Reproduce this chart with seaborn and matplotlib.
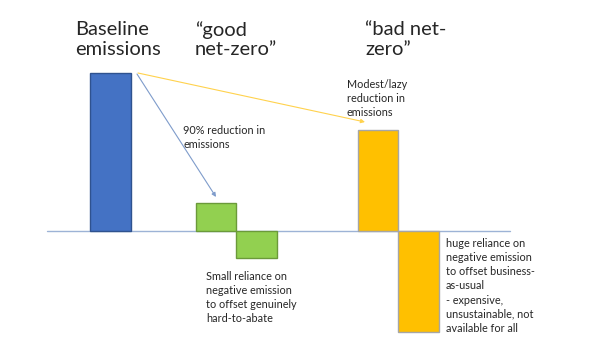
import matplotlib
matplotlib.use("Agg")
import matplotlib.pyplot as plt
import seaborn as sns
import pandas as pd

# ---- data ----
bar_labels = ["Baseline", "good +", "good -", "bad +", "bad -"]
bar_positions = [0.0, 2.6, 3.6, 6.6, 7.6]
bar_values = [100, 18, -17, 64, -64]
bar_groups = ["baseline", "good", "good", "bad", "bad"]
group_colors = {"baseline": "#4472C4", "good": "#92D050", "bad": "#FFC000"}
edge_colors = {"baseline": "#2F528F", "good": "#6B9A3A", "bad": "#A6A6A6"}

titles = ["Baseline\nemissions", "\u201cgood\nnet-zero\u201d", "\u201cbad net-\nzero\u201d"]
notes = [
    "90% reduction in\nemissions",
    "Modest/lazy\nreduction in\nemissions",
    "Small reliance on\nnegative emission\nto offset genuinely\nhard-to-abate",
    "huge reliance on\nnegative emission\nto offset business-\nas-usual\n- expensive,\nunsustainable, not\navailable for all",
]

df = pd.DataFrame({"label": bar_labels, "pos": bar_positions,
                   "value": bar_values, "group": bar_groups})

sns.set_theme(style="white")
plt.rcParams["font.family"] = ["Lato", "DejaVu Sans"]

W, H = 602, 338
fig = plt.figure(figsize=(W / 100, H / 100), dpi=100)
ax = fig.add_axes([0, 0, 1, 1])

sns.barplot(data=df, x="pos", y="value", hue="group", palette=group_colors,
            native_scale=True, width=1.0, dodge=False, legend=False, ax=ax,
            saturation=1, linewidth=1.0)
for patch, g in zip(ax.patches, bar_groups):
    patch.set_edgecolor(edge_colors[g])

# pixel mapping: bar unit = 40.5 px, baseline bar centre at 110.5 px, zero at y=231
ux, uy = 40.5, 1.58
x0px, y0px = 110.5, 231
ax.set_xlim(-x0px / ux, (W - x0px) / ux)
ax.set_ylim(-(H - y0px) / uy, y0px / uy)
ax.axis("off")

def px(x, y):
    return ((x - x0px) / ux, (y0px - y) / uy)

# zero line
xa, ya = px(47, 231)
xb, yb = px(510, 231)
ax.plot([xa, xb], [ya, yb], color="#9DB3D6", lw=1.0, zorder=0)

# arrows
ax.annotate("", xy=px(216, 197), xytext=px(137, 74),
            arrowprops=dict(arrowstyle="-|>", color="#7F9CCB", lw=0.8,
                            mutation_scale=6, shrinkA=0, shrinkB=0))
ax.annotate("", xy=px(365, 122), xytext=px(138, 73),
            arrowprops=dict(arrowstyle="-|>", color="#FFD24D", lw=0.8,
                            mutation_scale=6, shrinkA=0, shrinkB=0))

def ftext(x, y, s, size, ls=1.2):
    fig.text(x / W, 1 - y / H, s, fontsize=size, ha="left", va="top",
             color="#262626", linespacing=ls)

ftext(75, 21, titles[0], 14.5, 1.18)
ftext(195, 21, titles[1], 14.5, 1.18)
ftext(365, 21, titles[2], 14.5, 1.18)

ftext(183, 125, notes[0], 7.8, 1.35)
ftext(347, 79, notes[1], 7.8, 1.35)
ftext(206, 271, notes[2], 7.8, 1.35)
ftext(446, 238, notes[3], 7.8, 1.35)

fig.savefig("out.png", dpi=100)
